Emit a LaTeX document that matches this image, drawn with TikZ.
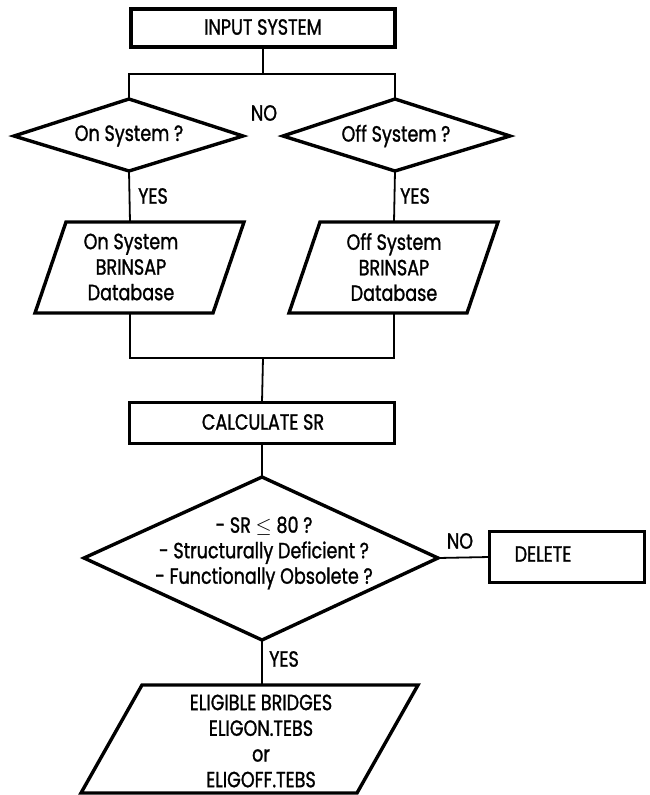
\documentclass[tikz,border=0pt]{standalone}
\usepackage{fontspec}
\setmainfont[FakeStretch=0.8,FakeBold=1.2]{Poppins}
\begin{document}
\begin{tikzpicture}[x=1pt,y=-1pt,
  shapeline/.style={line width=3.4pt,line join=miter},
  conn/.style={line width=1.8pt},
  lbl/.style={font=\fontsize{22}{25.5}\selectfont,inner sep=0pt,align=center},
  boxnode/.style={draw,shapeline,rectangle,inner sep=0pt,outer sep=0pt}]
\useasboundingbox (0,0) rectangle (650,795);
% top box
\node[boxnode,minimum width=264pt,minimum height=38pt] (input) at (263,28) {};
\node[lbl] (inputtxt) at (263,27) {INPUT SYSTEM};
% diamonds
\coordinate (ondT) at (129,99); \coordinate (ondB) at (129,171);
\coordinate (ondL) at (14,136); \coordinate (ondR) at (243,136);
\coordinate (offdT) at (395,99); \coordinate (offdB) at (395,171);
\coordinate (offdL) at (283,136); \coordinate (offdR) at (510,136);
\draw[shapeline] (ondT) -- (ondR) -- (ondB) -- (ondL) -- cycle;
\draw[shapeline] (offdT) -- (offdR) -- (offdB) -- (offdL) -- cycle;
\node[lbl] (ontxt) at (129,136) {On System ?};
\node[lbl] (offtxt) at (396,136) {Off System ?};
% bus
\coordinate (bus) at (263,74);
\draw[conn] (input.south) -- (bus);
\draw[conn] (ondT) |- (bus) -| (offdT);
\node[lbl] (no1) at (264,113) {NO};
% parallelograms
\coordinate (onpT) at (130,222); \coordinate (onpB) at (130,313);
\coordinate (offpT) at (394,222); \coordinate (offpB) at (394,313);
\draw[shapeline] (66,222) -- (244,222) -- (213,313) -- (35,313) -- cycle;
\draw[shapeline] (320,222) -- (498,222) -- (467,313) -- (289,313) -- cycle;
\node[lbl] (onptxt) at (131,267) {On System\\BRINSAP\\Database};
\node[lbl] (offptxt) at (394,267) {Off System\\BRINSAP\\Database};
\draw[conn] (ondB) -- (onpT);
\draw[conn] (offdB) -- (offpT);
\node[lbl] (yes1) at (153,196) {YES};
\node[lbl] (yes2) at (415,196) {YES};
% join
\coordinate (join) at (263,358);
\node[boxnode,minimum width=265pt,minimum height=41pt] (calc) at (262,423) {};
\node[lbl] (calctxt) at (263,422) {CALCULATE SR};
\draw[conn] (onpB) |- (join) -| (offpB);
\draw[conn] (join) -- (calc.north);
% big diamond
\coordinate (bdT) at (262,477); \coordinate (bdB) at (262,640);
\coordinate (bdL) at (84,558); \coordinate (bdR) at (438,558);
\draw[shapeline] (bdT) -- (bdR) -- (bdB) -- (bdL) -- cycle;
\draw[conn] (calc.south) -- (bdT);
\node[lbl] (bdtxt) at (264,553) {- SR $\leq$ 80 ?\\- Structurally Deficient ?\\- Functionally Obsolete ?};
% delete
\node[boxnode,minimum width=155pt,minimum height=51pt] (del) at (567,557) {};
\node[lbl] (deltxt) at (543,554) {DELETE};
\draw[conn] (bdR) -- (del.west);
\node[lbl] (no2) at (460,541) {NO};
% bottom parallelogram
\coordinate (bpT) at (262,685);
\draw[shapeline] (142,685) -- (418,685) -- (357,793) -- (81,793) -- cycle;
\draw[conn] (bdB) -- (bpT);
\node[lbl] (yes3) at (284,659) {YES};
\node[lbl,font=\fontsize{22}{25.7}\selectfont] (bptxt) at (261,741) {ELIGIBLE BRIDGES\\ELIGON.TEBS\\or\\ELIGOFF.TEBS};
\end{tikzpicture}
\end{document}
